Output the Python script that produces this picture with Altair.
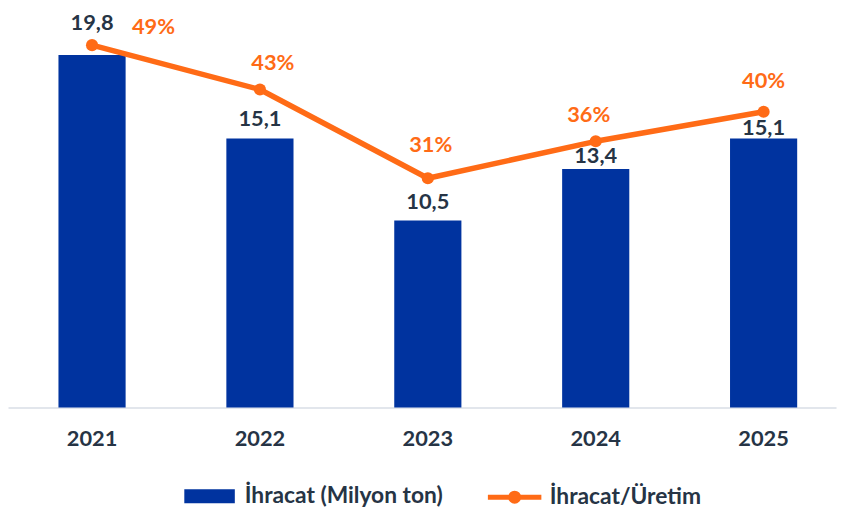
import altair as alt
import pandas as pd

# ---- data ----
years = ["2021", "2022", "2023", "2024", "2025"]
exports = [19.8, 15.1, 10.5, 13.4, 15.1]          # İhracat (Milyon ton)
ratio = [49, 43, 31, 36, 40]                      # İhracat/Üretim (%)
bar_series = "İhracat (Milyon ton)"
line_series = "İhracat/Üretim"

BLUE = "#00339F"
ORANGE = "#FF6B16"
DARK = "#263445"
FONT = "Lato"

df = pd.DataFrame({"year": years, "exports": exports, "ratio": ratio})
df["bs"] = bar_series
df["ls"] = line_series

# label placement (pixel offsets, like Excel's auto-placed labels)
bar_dy = {"2021": -32.5, "2022": -20, "2023": -18.5, "2024": -12.5, "2025": -11}
pct_dx = {"2021": 62, "2022": 13, "2023": 3, "2024": -7, "2025": 0}
pct_dy = {"2021": -18.5, "2022": -27, "2023": -34, "2024": -26, "2025": -31}


def lookup(d):
    expr = "0"
    for k, v in reversed(list(d.items())):
        expr = f"datum.year == '{k}' ? {v} : ({expr})"
    return expr


x_enc = alt.X(
    "year:N",
    sort=years,
    title=None,
    scale=alt.Scale(paddingInner=0.6, paddingOuter=0.266, align=0.565),
    axis=alt.Axis(
        labelAngle=0,
        labelFont=FONT,
        labelFontSize=22,
        labelFontWeight="bold",
        labelColor=DARK,
        labelPadding=21,
        ticks=False,
        domainColor="#D9DEE6",
        domainWidth=1.5,
        grid=False,
    ),
)

y_bar = alt.Y("exports:Q", scale=alt.Scale(domain=[0, 22.3], nice=False, zero=True), axis=None)
y_line = alt.Y("ratio:Q", scale=alt.Scale(domain=[0, 53.7], nice=False, zero=True), axis=None)

rect_path = "M-1,-0.275L1,-0.275L1,0.275L-1,0.275Z"
r = 0.15
line_path = f"M-1,0L1,0M{r},0A{r},{r},0,1,1,-{r},0A{r},{r},0,1,1,{r},0"

base = alt.Chart(df)

bars = base.mark_bar(strokeWidth=0).encode(
    x=x_enc,
    y=y_bar,
    fill=alt.Fill(
        "bs:N",
        scale=alt.Scale(domain=[bar_series], range=[BLUE]),
        legend=alt.Legend(
            title=None,
            orient="none",
            legendX=178,
            legendY=465,
            padding=0,
            symbolType=rect_path,
            symbolSize=2601,
            symbolStrokeWidth=0,
            labelFont=FONT,
            labelFontSize=23,
            labelFontWeight="bold",
            labelColor=DARK,
            labelOffset=10,
            labelLimit=400,
        ),
    ),
)

bar_text = base.transform_calculate(
    lbl="replace(format(datum.exports, '.1f'), '.', ',')",
    bdy=lookup(bar_dy),
).mark_text(
    font=FONT, fontSize=22, fontWeight="bold", color=DARK, baseline="middle",
    dy=alt.ExprRef("datum.bdy"),
).encode(x=alt.X("year:N", sort=years), y=y_bar, text="lbl:N")

line = base.mark_line(strokeWidth=5.5, strokeCap="round", strokeJoin="round").encode(
    x=alt.X("year:N", sort=years),
    y=y_line,
    stroke=alt.Stroke(
        "ls:N",
        scale=alt.Scale(domain=[line_series], range=[ORANGE]),
        legend=alt.Legend(
            title=None,
            orient="none",
            legendX=482,
            legendY=462,
            padding=0,
            symbolType=line_path,
            symbolSize=2916,
            symbolStrokeWidth=5,
            symbolFillColor=ORANGE,
            labelFont=FONT,
            labelFontSize=23,
            labelFontWeight="bold",
            labelColor=DARK,
            labelOffset=6,
            labelLimit=400,
        ),
    ),
)

points = base.mark_circle(size=150, opacity=1, color=ORANGE).encode(
    x=alt.X("year:N", sort=years), y=y_line
)

pct_text = base.transform_calculate(
    lbl="datum.ratio + '%'",
    pdx=lookup(pct_dx),
    pdy=lookup(pct_dy),
).mark_text(
    font=FONT, fontSize=22, fontWeight="bold", color=ORANGE, baseline="middle",
    dx=alt.ExprRef("datum.pdx"), dy=alt.ExprRef("datum.pdy"),
).encode(x=alt.X("year:N", sort=years), y=y_line, text="lbl:N")

bar_layer = alt.layer(bars, bar_text)
line_layer = alt.layer(line, points, pct_text)

chart = (
    alt.layer(bar_layer, line_layer)
    .resolve_scale(y="independent")
    .properties(
        width=836,
        height=401,
        background="white",
        autosize=alt.AutoSizeParams(type="none"),
        padding={"left": 0, "top": 0, "right": 4, "bottom": 100},
    )
    .configure_view(stroke="transparent", strokeWidth=0)
)

chart.save("out.html", embed_options={"renderer": "svg", "actions": False})
